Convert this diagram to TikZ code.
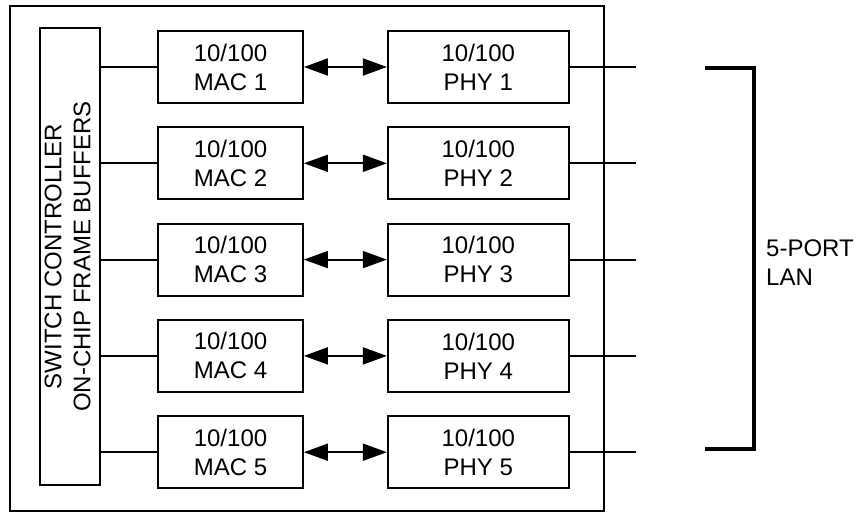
\documentclass[tikz,border=0pt]{standalone}
\usepackage{fontspec}
\setmainfont{Liberation Sans}
\usetikzlibrary{positioning,arrows.meta}

\begin{document}
\begin{tikzpicture}[x=1pt,y=-1pt,
  font=\fontsize{24}{29}\selectfont,
  box/.style={draw, line width=1.8pt, minimum height=72pt, align=center, inner sep=0pt},
  mac/.style={box, minimum width=145pt},
  phy/.style={box, minimum width=181pt},
  wire/.style={line width=1.8pt},
  link/.style={line width=1.8pt, {Triangle[length=24pt,width=17pt]}-{Triangle[length=24pt,width=17pt]}}]

  \useasboundingbox (0,0) rectangle (856,514);

  \node (chip) [draw, line width=1.8pt, minimum width=594pt, minimum height=505pt] at (307,258.5) {};
  \node (ctrl) [box, minimum width=60pt, minimum height=457pt] at (70,256.5)
    {\rotatebox{90}{\begin{tabular}{@{}c@{}}SWITCH CONTROLLER\\ON-CHIP FRAME BUFFERS\end{tabular}}};

  \node (mac1) [mac] at (230.5,67) {10/100\\MAC 1};
  \node (mac2) [mac, below=22.5pt of mac1] {10/100\\MAC 2};
  \node (mac3) [mac, below=22.5pt of mac2] {10/100\\MAC 3};
  \node (mac4) [mac, below=22.5pt of mac3] {10/100\\MAC 4};
  \node (mac5) [mac, below=22.5pt of mac4] {10/100\\MAC 5};

  \node (phy1) [phy, right=83pt of mac1] {10/100\\PHY 1};
  \node (phy2) [phy, right=83pt of mac2] {10/100\\PHY 2};
  \node (phy3) [phy, right=83pt of mac3] {10/100\\PHY 3};
  \node (phy4) [phy, right=83pt of mac4] {10/100\\PHY 4};
  \node (phy5) [phy, right=83pt of mac5] {10/100\\PHY 5};

  \coordinate (port) at (636,0);

  \draw [wire] (ctrl.east |- mac1) -- (mac1);
  \draw [wire] (ctrl.east |- mac2) -- (mac2);
  \draw [wire] (ctrl.east |- mac3) -- (mac3);
  \draw [wire] (ctrl.east |- mac4) -- (mac4);
  \draw [wire] (ctrl.east |- mac5) -- (mac5);

  \draw [link] (mac1) -- (phy1);
  \draw [link] (mac2) -- (phy2);
  \draw [link] (mac3) -- (phy3);
  \draw [link] (mac4) -- (phy4);
  \draw [link] (mac5) -- (phy5);

  \draw [wire] (phy1) -- (phy1 -| port);
  \draw [wire] (phy2) -- (phy2 -| port);
  \draw [wire] (phy3) -- (phy3 -| port);
  \draw [wire] (phy4) -- (phy4 -| port);
  \draw [wire] (phy5) -- (phy5 -| port);

  % bracket round the ports
  \draw [line width=4pt] (705,68) -- (754,68) -- (754,449) -- (705,449);
  \node (lan) [anchor=west, align=left, inner sep=0pt] at (766,263) {5-PORT\\LAN};

\end{tikzpicture}
\end{document}
